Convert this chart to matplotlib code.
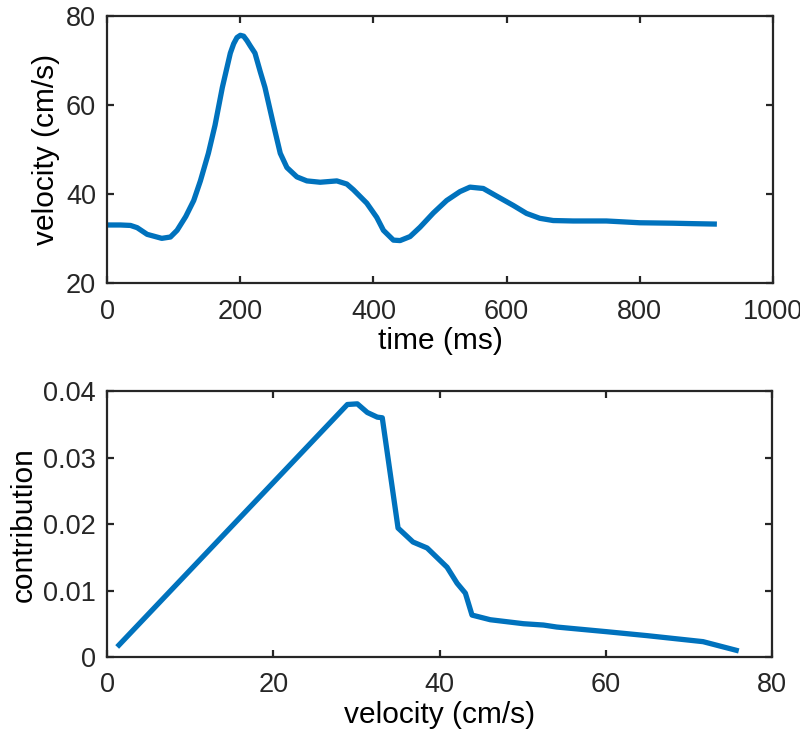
import matplotlib
matplotlib.use('Agg')
import matplotlib.pyplot as plt

plt.rcParams['font.family'] = ['Liberation Sans', 'DejaVu Sans']

# top panel - velocity trace
time_ms = [0, 20, 35, 45, 60, 82, 95, 105, 118, 130, 140, 152, 162, 173, 180, 185, 190, 195, 200, 205, 210,
           215, 222, 230, 237, 250, 260, 270, 285, 300, 320, 345, 360, 370, 390, 405, 415, 430, 440,
           455, 470, 490, 510, 530, 545, 565, 585, 610, 630, 650, 670, 700, 750, 800, 850, 880, 916]
velocity = [33.1, 33.1, 33.0, 32.5, 31.0, 30.1, 30.4, 31.9, 35.0, 38.6, 43.0, 49.2, 55.5, 64.0, 68.5, 71.7, 73.8, 75.2, 75.7, 75.5, 74.5,
            73.3, 71.7, 67.5, 64.0, 55.5, 49.2, 46.0, 43.9, 43.0, 42.7, 43.0, 42.3, 41.0, 38.0, 34.8, 31.9, 29.7, 29.6,
            30.5, 32.6, 35.8, 38.6, 40.6, 41.6, 41.3, 39.6, 37.5, 35.7, 34.6, 34.1, 34.0, 34.0, 33.6, 33.5, 33.4, 33.3]

# bottom panel - contribution vs velocity
vel = [1.2, 28.9, 30.1, 31.3, 32.5, 33.1, 35.0, 36.8, 38.5, 40.9, 42.1, 43.1, 43.9,
       46.1, 50.1, 52.5, 54.1, 60.1, 65.0, 71.7, 76.0]
contribution = [0.0015, 0.038, 0.0381, 0.0368, 0.0361, 0.036, 0.0194, 0.0173, 0.0164, 0.0135, 0.0111, 0.0096, 0.0063,
                0.0056, 0.0050, 0.0048, 0.0045, 0.0038, 0.0032, 0.0023, 0.0009]

blue = '#0072BD'
tick_fs = 19.5
label_fs = 21.5

fig = plt.figure(figsize=(8, 7.34), dpi=100)
ax1 = fig.add_axes([0.134, 0.614, 0.832, 0.364])
ax2 = fig.add_axes([0.134, 0.105, 0.831, 0.362])

ax1.plot(time_ms, velocity, color=blue, linewidth=3.8, solid_capstyle='butt', solid_joinstyle='round')
ax1.set_xlim(0, 1000)
ax1.set_ylim(20, 80)
ax1.set_xticks([0, 200, 400, 600, 800, 1000])
ax1.set_yticks([20, 40, 60, 80])
ax1.set_xlabel('time (ms)', fontsize=label_fs, labelpad=2)
ax1.set_ylabel('velocity (cm/s)', fontsize=label_fs, labelpad=4)

ax2.plot(vel, contribution, color=blue, linewidth=3.8, solid_capstyle='butt', solid_joinstyle='round')
ax2.set_xlim(0, 80)
ax2.set_ylim(0, 0.04)
ax2.set_xticks([0, 20, 40, 60, 80])
ax2.set_yticks([0, 0.01, 0.02, 0.03, 0.04])
ax2.set_yticklabels(['0', '0.01', '0.02', '0.03', '0.04'])
ax2.set_xlabel('velocity (cm/s)', fontsize=label_fs, labelpad=2)
ax2.set_ylabel('contribution', fontsize=label_fs, labelpad=4)

for ax in (ax1, ax2):
    for s in ax.spines.values():
        s.set_linewidth(1.6)
        s.set_color('#262626')
    ax.tick_params(direction='in', top=True, right=True, length=5, width=1.6,
                   labelsize=tick_fs, colors='#262626', pad=8)
    ax.tick_params(axis='x', pad=11)

fig.savefig('out.png', dpi=100)
